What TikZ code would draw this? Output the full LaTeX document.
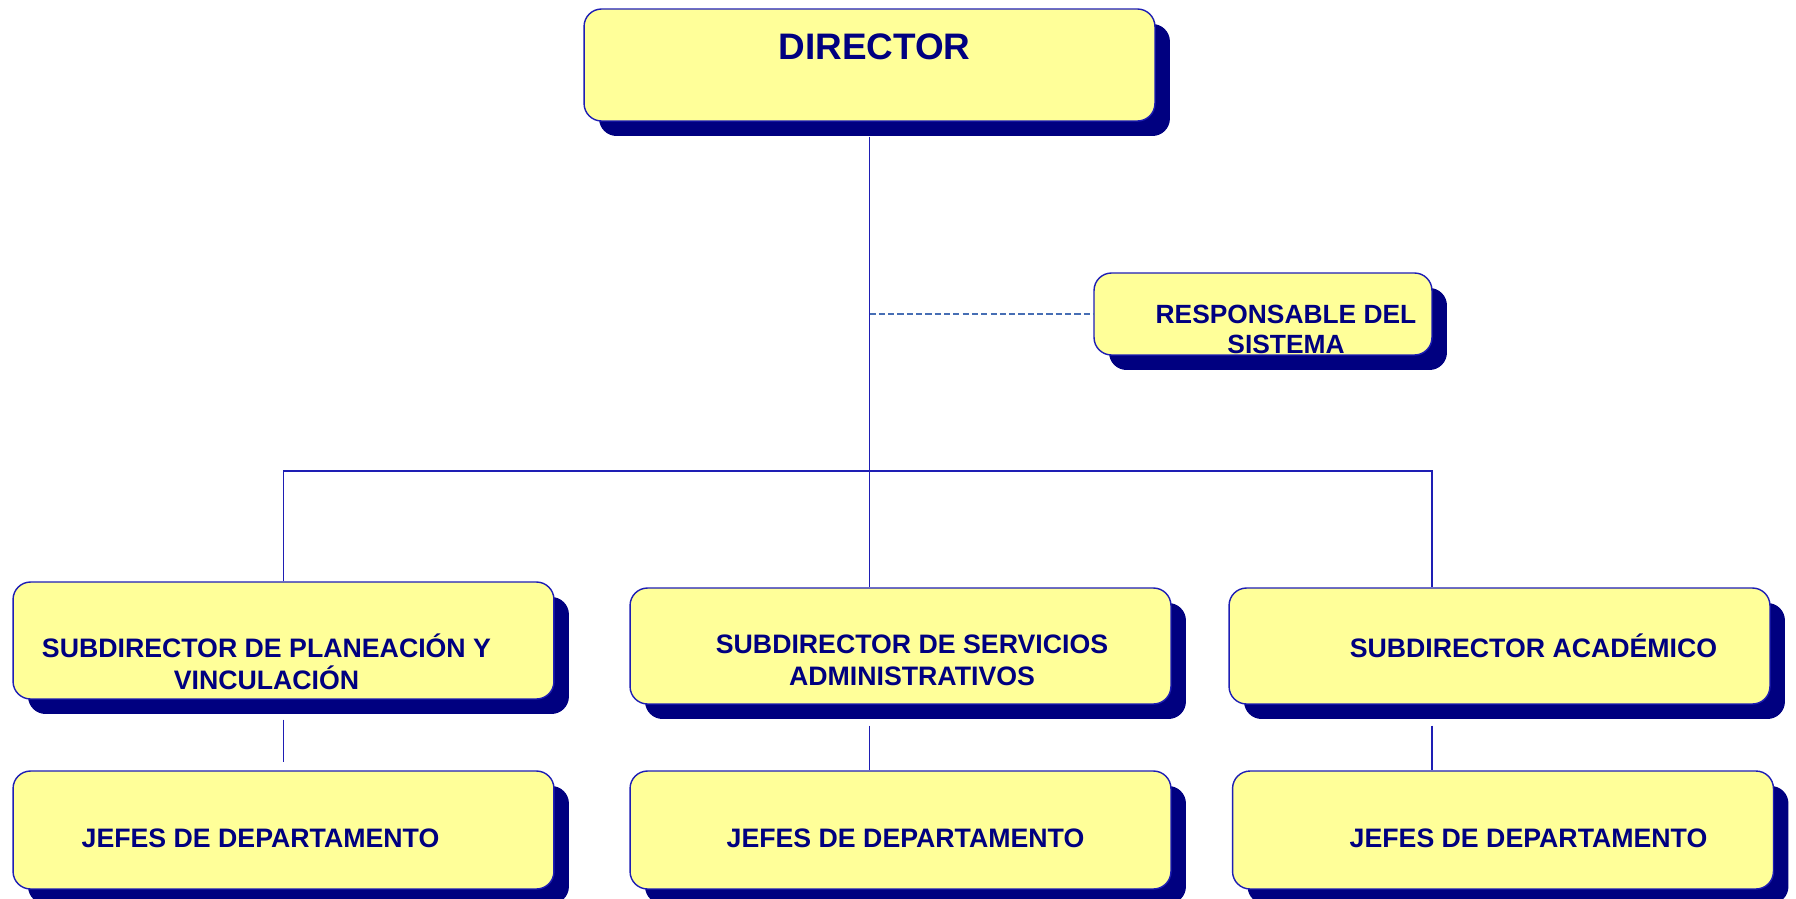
\documentclass[tikz,border=0pt]{standalone}
\usepackage{fontspec}
\setmainfont{Liberation Sans}
\usetikzlibrary{shadows,calc}
\definecolor{navy}{RGB}{0,0,128}
\definecolor{azul}{RGB}{30,30,180}
\definecolor{amarillo}{RGB}{255,255,153}
\definecolor{guion}{RGB}{70,110,180}

\begin{document}
\begin{tikzpicture}[x=0.02cm,y=-0.02cm,
	caja/.style={draw=azul, line width=0.8pt, fill=amarillo, rounded corners=0.35cm,
		drop shadow={shadow xshift=0.3cm, shadow yshift=-0.3cm, fill=navy, opacity=1},
		minimum width=10.82cm, minimum height=2.34cm, inner sep=0pt},
	texto/.style={text=navy, font=\bfseries\fontsize{15.2}{18}\selectfont, align=center, inner sep=0pt},
	linea/.style={draw=azul, line width=1pt},
	punteada/.style={draw=guion, line width=1pt, dash pattern=on 3.5pt off 1.8pt}]
	\useasboundingbox (0,0) rectangle (1796,899);
	% cajas
	\node[caja, minimum width=11.42cm, minimum height=2.24cm] (dir) at (869.5,65) {};
	\node[caja, minimum width=6.76cm, minimum height=1.64cm] (resp) at (1263,314) {};
	\node[caja] (sub1) at (283.5,640.5) {};
	\node[caja, minimum height=2.32cm] (sub2) at (900.5,646) {};
	\node[caja, minimum height=2.32cm] (sub3) at (1499.5,646) {};
	\node[caja, minimum height=2.36cm] (jef1) at (283.5,830) {};
	\node[caja, minimum height=2.36cm] (jef2) at (900.5,830) {};
	\node[caja, minimum height=2.36cm] (jef3) at (1503,830) {};
	% textos
	\node[texto, font=\bfseries\fontsize{21}{25}\selectfont] (dir-t) at ($(dir)+(5,-18)$) {DIRECTOR};
	\node[texto, font=\bfseries\fontsize{15}{17}\selectfont] (resp-t) at ($(resp)+(23,15)$) {RESPONSABLE DEL\\SISTEMA};
	\node[texto] (sub1-t) at ($(sub1)+(-17,21)$) {SUBDIRECTOR DE PLANEACIÓN Y\\VINCULACIÓN};
	\node[texto] (sub2-t) at ($(sub2)+(11.5,14.5)$) {SUBDIRECTOR DE SERVICIOS\\ADMINISTRATIVOS};
	\node[texto] (sub3-t) at ($(sub3)+(34,0)$) {SUBDIRECTOR ACADÉMICO};
	\node[texto] (jef1-t) at ($(jef1)+(-23,8)$) {JEFES DE DEPARTAMENTO};
	\node[texto] (jef2-t) at ($(jef2)+(5,8)$) {JEFES DE DEPARTAMENTO};
	\node[texto] (jef3-t) at ($(jef3)+(25.5,8)$) {JEFES DE DEPARTAMENTO};
	% lineas
	\coordinate (bus-r) at (1432,471);
	\draw[linea, shorten <=0.3cm] (dir.south) -- (dir.south |- sub2.north);
	\draw[punteada] (dir.south |- resp.west) -- (resp.west);
	\draw[linea] (sub1.north) -- (sub1.north |- bus-r) -- (bus-r) -- (bus-r |- sub3.north);
	\draw[linea, shorten <=0.4cm, shorten >=0.16cm] (sub1.south) -- (jef1.north);
	\draw[linea, shorten <=0.42cm] (dir.south |- sub2.south) -- (dir.south |- jef2.north);
	\draw[linea, shorten <=0.42cm] (bus-r |- sub3.south) -- (bus-r |- jef3.north);
\end{tikzpicture}
\end{document}
